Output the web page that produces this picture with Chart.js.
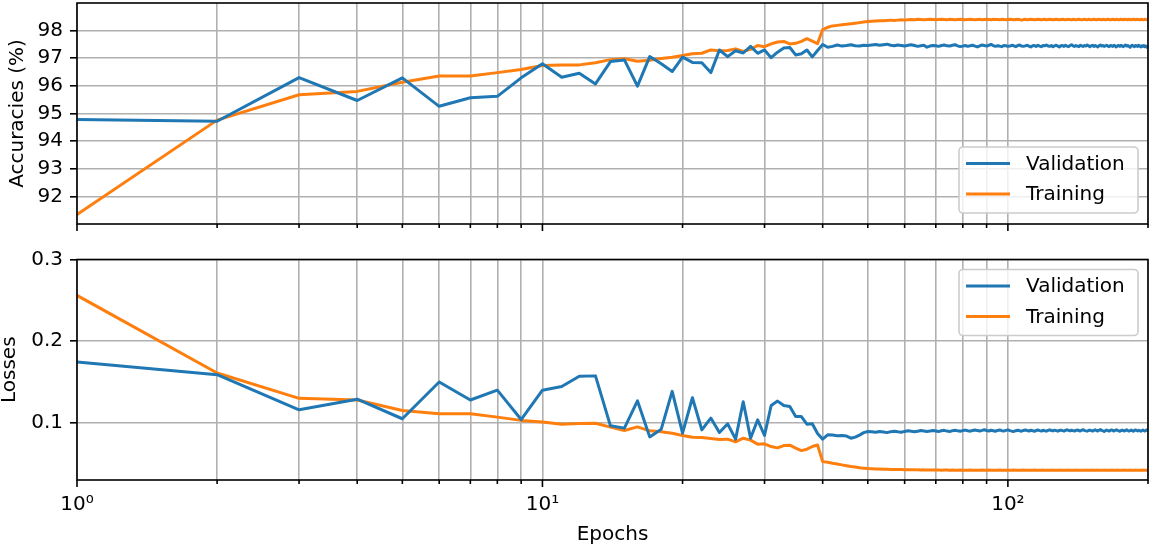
<!DOCTYPE html>
<html>
<head>
<meta charset="utf-8">
<script src="https://cdn.jsdelivr.net/npm/chart.js@4.4.1/dist/chart.umd.min.js"></script>
<style>
  html, body { margin: 0; padding: 0; background: #fff; }
  #wrap { position: relative; width: 1153px; height: 548px; }
  canvas { position: absolute; left: 0; }
  #accChart { top: 0; }
  #lossChart { top: 240px; }
</style>
</head>
<body>
<div id="wrap">
  <canvas id="accChart" width="1153" height="240"></canvas>
  <canvas id="lossChart" width="1153" height="308"></canvas>
</div>
<script>
// epochs 1..200
const epochs = Array.from({ length: 200 }, (_, i) => i + 1);

const xTicks = [1, 2, 3, 4, 5, 6, 7, 8, 9, 10, 20, 30, 40, 50, 60, 70, 80, 90, 100, 200];
const xMajor = [1, 10, 100];
const xTickLabels = ["10⁰", "10¹", "10²"];
const accTicks = [92, 93, 94, 95, 96, 97, 98];
const lossTicks = [0.1, 0.2, 0.3];

const valAcc = [
  94.78, 94.72, 96.30, 95.47, 96.29, 95.26, 95.57, 95.62, 96.29, 96.80,
  96.31, 96.46, 96.07, 96.88, 96.94, 95.99, 97.06, 96.80, 96.52, 97.04,
  96.85, 96.84, 96.48, 97.30, 97.06, 97.27, 97.19, 97.43, 97.18, 97.30,
  97.02, 97.22, 97.37, 97.39, 97.12, 97.16, 97.30, 97.05, 97.28, 97.50,
  97.40, 97.43, 97.48, 97.44, 97.46, 97.49, 97.45, 97.44, 97.47, 97.46,
  97.48, 97.50, 97.47, 97.49, 97.51, 97.47, 97.45, 97.48, 97.46, 97.44,
  97.47, 97.49, 97.46, 97.43, 97.45, 97.47, 97.40, 97.44, 97.46, 97.45,
  97.43, 97.46, 97.48, 97.45, 97.44, 97.47, 97.49, 97.45, 97.42, 97.44,
  97.46, 97.43, 97.45, 97.47, 97.44, 97.41, 97.45, 97.48, 97.46, 97.44,
  97.47, 97.50, 97.46, 97.43, 97.45, 97.44, 97.42, 97.46, 97.45, 97.43,
  97.44, 97.47, 97.45, 97.42, 97.46, 97.48, 97.44, 97.43, 97.45, 97.47,
  97.44, 97.41, 97.45, 97.46, 97.43, 97.47, 97.44, 97.42, 97.46, 97.45,
  97.48, 97.44, 97.43, 97.46, 97.42, 97.45, 97.47, 97.44, 97.41, 97.45,
  97.46, 97.43, 97.47, 97.44, 97.42, 97.46, 97.49, 97.45, 97.43, 97.46,
  97.44, 97.42, 97.47, 97.45, 97.43, 97.46, 97.44, 97.48, 97.45, 97.42,
  97.45, 97.47, 97.43, 97.46, 97.44, 97.41, 97.45, 97.48, 97.44, 97.46,
  97.43, 97.45, 97.47, 97.44, 97.42, 97.46, 97.45, 97.43, 97.47, 97.44,
  97.41, 97.45, 97.46, 97.43, 97.47, 97.44, 97.42, 97.45, 97.48, 97.44,
  97.46, 97.43, 97.40, 97.45, 97.47, 97.44, 97.42, 97.46, 97.45, 97.43,
  97.47, 97.44, 97.41, 97.45, 97.43, 97.46, 97.42, 97.44, 97.40, 97.43
];

const trainAcc = [
  91.34, 94.76, 95.68, 95.80, 96.13, 96.36, 96.36, 96.48, 96.59, 96.74,
  96.76, 96.76, 96.84, 96.95, 96.98, 96.89, 96.93, 96.99, 97.04, 97.10,
  97.16, 97.18, 97.30, 97.27, 97.28, 97.34, 97.25, 97.32, 97.46, 97.42,
  97.52, 97.59, 97.61, 97.52, 97.54, 97.61, 97.71, 97.62, 97.53, 98.04,
  98.12, 98.17, 98.19, 98.21, 98.23, 98.25, 98.27, 98.29, 98.31, 98.33,
  98.34, 98.35, 98.36, 98.36, 98.37, 98.38, 98.37, 98.38, 98.39, 98.38,
  98.39, 98.40, 98.39, 98.41, 98.40, 98.39, 98.40, 98.41, 98.40, 98.39,
  98.40, 98.41, 98.40, 98.39, 98.41, 98.40, 98.39, 98.40, 98.41, 98.40,
  98.39, 98.40, 98.41, 98.40, 98.39, 98.40, 98.41, 98.39, 98.40, 98.41,
  98.40, 98.39, 98.41, 98.40, 98.40, 98.39, 98.41, 98.40, 98.39, 98.40,
  98.41, 98.40, 98.39, 98.40, 98.41, 98.40, 98.38, 98.40, 98.41, 98.39,
  98.40, 98.41, 98.40, 98.39, 98.40, 98.41, 98.40, 98.39, 98.40, 98.41,
  98.39, 98.40, 98.41, 98.40, 98.39, 98.40, 98.41, 98.40, 98.39, 98.40,
  98.41, 98.40, 98.39, 98.41, 98.40, 98.40, 98.39, 98.41, 98.40, 98.39,
  98.40, 98.41, 98.40, 98.39, 98.40, 98.41, 98.40, 98.39, 98.41, 98.40,
  98.39, 98.40, 98.41, 98.40, 98.39, 98.41, 98.40, 98.40, 98.39, 98.41,
  98.40, 98.39, 98.40, 98.41, 98.40, 98.39, 98.40, 98.41, 98.40, 98.39,
  98.41, 98.40, 98.39, 98.40, 98.41, 98.40, 98.39, 98.41, 98.40, 98.40,
  98.39, 98.41, 98.40, 98.39, 98.40, 98.41, 98.40, 98.39, 98.41, 98.40,
  98.40, 98.39, 98.41, 98.40, 98.39, 98.40, 98.41, 98.40, 98.39, 98.40
];

const valLoss = [
  0.1745, 0.159, 0.116, 0.129, 0.105, 0.150, 0.128, 0.140, 0.104, 0.140,
  0.1445, 0.157, 0.1575, 0.0963, 0.0935, 0.127, 0.0828, 0.0922, 0.1385, 0.0873,
  0.1307, 0.0914, 0.1058, 0.0881, 0.0988, 0.0800, 0.1258, 0.0812, 0.1037, 0.0845,
  0.1212, 0.1266, 0.1212, 0.1200, 0.1077, 0.1077, 0.0984, 0.0988, 0.0870, 0.0800,
  0.0853, 0.0850, 0.0842, 0.0845, 0.0838, 0.0812, 0.0825, 0.0850, 0.0880, 0.0893,
  0.0890, 0.0885, 0.0895, 0.0888, 0.0880, 0.0892, 0.0898, 0.0890, 0.0885, 0.0895,
  0.0902, 0.0896, 0.0890, 0.0898, 0.0905, 0.0900, 0.0893, 0.0899, 0.0906, 0.0901,
  0.0895, 0.0902, 0.0908, 0.0899, 0.0893, 0.0904, 0.0910, 0.0902, 0.0897, 0.0905,
  0.0911, 0.0903, 0.0898, 0.0906, 0.0913, 0.0905, 0.0899, 0.0908, 0.0915, 0.0906,
  0.0900, 0.0909, 0.0903, 0.0897, 0.0907, 0.0912, 0.0904, 0.0899, 0.0908, 0.0914,
  0.0905, 0.0898, 0.0895, 0.0904, 0.0910, 0.0903, 0.0898, 0.0907, 0.0913, 0.0906,
  0.0900, 0.0909, 0.0904, 0.0897, 0.0906, 0.0912, 0.0905, 0.0900, 0.0909, 0.0903,
  0.0898, 0.0907, 0.0914, 0.0906, 0.0901, 0.0910, 0.0904, 0.0898, 0.0906, 0.0911,
  0.0904, 0.0899, 0.0908, 0.0915, 0.0907, 0.0901, 0.0910, 0.0905, 0.0899, 0.0907,
  0.0912, 0.0906, 0.0900, 0.0909, 0.0916, 0.0908, 0.0902, 0.0898, 0.0906, 0.0911,
  0.0905, 0.0899, 0.0908, 0.0914, 0.0906, 0.0900, 0.0909, 0.0917, 0.0907, 0.0901,
  0.0895, 0.0904, 0.0911, 0.0905, 0.0899, 0.0907, 0.0913, 0.0906, 0.0900, 0.0909,
  0.0915, 0.0907, 0.0902, 0.0896, 0.0905, 0.0912, 0.0906, 0.0900, 0.0908, 0.0914,
  0.0906, 0.0899, 0.0904, 0.0911, 0.0905, 0.0898, 0.0907, 0.0913, 0.0906, 0.0900,
  0.0909, 0.0903, 0.0897, 0.0906, 0.0912, 0.0905, 0.0899, 0.0908, 0.0915, 0.0904
];

const trainLoss = [
  0.256, 0.161, 0.130, 0.128, 0.115, 0.111, 0.111, 0.107, 0.103, 0.101,
  0.0984, 0.0992, 0.0995, 0.0947, 0.0906, 0.0951, 0.0902, 0.0890, 0.0873, 0.0845,
  0.0824, 0.0820, 0.0808, 0.0795, 0.0800, 0.0767, 0.0812, 0.0788, 0.0739, 0.0743,
  0.0710, 0.0693, 0.0722, 0.0726, 0.0690, 0.0660, 0.0677, 0.0710, 0.0728, 0.0525,
  0.0517, 0.0505, 0.0497, 0.0485, 0.0475, 0.0465, 0.0458, 0.0450, 0.0445, 0.0440,
  0.0437, 0.0435, 0.0434, 0.0432, 0.0431, 0.0430, 0.0429, 0.0428, 0.0428, 0.0427,
  0.0426, 0.0425, 0.0426, 0.0424, 0.0423, 0.0424, 0.0422, 0.0423, 0.0421, 0.0422,
  0.0421, 0.0420, 0.0422, 0.0421, 0.0420, 0.0421, 0.0419, 0.0420, 0.0421, 0.0420,
  0.0419, 0.0420, 0.0421, 0.0419, 0.0420, 0.0418, 0.0420, 0.0421, 0.0419, 0.0420,
  0.0421, 0.0419, 0.0420, 0.0418, 0.0419, 0.0421, 0.0420, 0.0419, 0.0420, 0.0418,
  0.0419, 0.0420, 0.0421, 0.0419, 0.0418, 0.0420, 0.0419, 0.0421, 0.0420, 0.0419,
  0.0418, 0.0420, 0.0419, 0.0421, 0.0420, 0.0418, 0.0419, 0.0420, 0.0421, 0.0419,
  0.0420, 0.0418, 0.0419, 0.0421, 0.0420, 0.0419, 0.0418, 0.0420, 0.0421, 0.0419,
  0.0420, 0.0419, 0.0418, 0.0420, 0.0421, 0.0419, 0.0420, 0.0418, 0.0419, 0.0421,
  0.0420, 0.0419, 0.0421, 0.0418, 0.0420, 0.0419, 0.0421, 0.0420, 0.0418, 0.0419,
  0.0421, 0.0420, 0.0419, 0.0418, 0.0420, 0.0421, 0.0419, 0.0420, 0.0418, 0.0419,
  0.0420, 0.0421, 0.0419, 0.0418, 0.0420, 0.0419, 0.0421, 0.0420, 0.0419, 0.0418,
  0.0420, 0.0421, 0.0419, 0.0420, 0.0418, 0.0419, 0.0421, 0.0420, 0.0419, 0.0420,
  0.0418, 0.0420, 0.0421, 0.0419, 0.0420, 0.0418, 0.0419, 0.0421, 0.0420, 0.0419,
  0.0420, 0.0418, 0.0421, 0.0419, 0.0420, 0.0421, 0.0419, 0.0418, 0.0420, 0.0421
];

const BLUE = "#1f77b4";
const ORANGE = "#ff7f0e";
const GRID = "#b0b0b0";
const FONT = "'DejaVu Sans', sans-serif";

Chart.defaults.font.family = FONT;
Chart.defaults.font.size = 20;
Chart.defaults.color = "#000";

const pts = (vals) => epochs.map((e, i) => ({ x: e, y: vals[i] }));

function series(label, color, vals) {
  return {
    label,
    data: pts(vals),
    borderColor: color,
    backgroundColor: color,
    borderWidth: 3,
    pointRadius: 0,
    tension: 0,
    borderJoinStyle: "round",
    borderCapStyle: "round",
  };
}

// box, x tick marks (long on decades, short elsewhere)
const frame = {
  id: "frame",
  afterDatasetsDraw(chart) {
    const { ctx, chartArea: a } = chart;
    const xs = chart.scales.x;
    ctx.save();
    ctx.strokeStyle = "#000";
    ctx.lineWidth = 1.6;
    xs.ticks.forEach((t) => {
      const px = xs.getPixelForValue(t.value);
      const len = xMajor.includes(t.value) ? 7 : 4;
      ctx.beginPath();
      ctx.moveTo(px, a.bottom);
      ctx.lineTo(px, a.bottom + len);
      ctx.stroke();
    });
    ctx.strokeRect(a.left, a.top, a.right - a.left, a.bottom - a.top);
    ctx.restore();
  },
};

// matplotlib-like legend box inside the axes
const boxLegend = {
  id: "boxLegend",
  afterDraw(chart, args, opts) {
    const { ctx, chartArea: a } = chart;
    const w = 179, h = 66;
    const left = a.right - 10 - w;
    const top = opts.where === "lower" ? a.bottom - 11 - h : a.top + 10;
    ctx.save();
    ctx.fillStyle = "rgba(255,255,255,0.8)";
    ctx.strokeStyle = "#cccccc";
    ctx.lineWidth = 1.6;
    ctx.beginPath();
    ctx.roundRect(left, top, w, h, 4);
    ctx.fill();
    ctx.stroke();
    ctx.font = "20px " + FONT;
    ctx.textBaseline = "middle";
    chart.data.datasets.forEach((ds, i) => {
      const y = top + 16.5 + i * 30.5;
      ctx.strokeStyle = ds.borderColor;
      ctx.lineWidth = 3;
      ctx.beginPath();
      ctx.moveTo(left + 7, y);
      ctx.lineTo(left + 51, y);
      ctx.stroke();
      ctx.fillStyle = "#000";
      ctx.fillText(ds.label, left + 67, y + 1);
    });
    ctx.restore();
  },
};

function xScale(showLabels, height) {
  return {
    type: "logarithmic",
    min: 1,
    max: 200,
    afterBuildTicks: (s) => { s.ticks = xTicks.map((v) => ({ value: v })); },
    afterFit: (s) => {
      s.height = height;
      s.paddingLeft = 0;
      s.paddingRight = 0;
    },
    grid: { color: GRID, lineWidth: 1.6, drawTicks: false },
    border: { display: false },
    ticks: {
      display: showLabels,
      autoSkip: false,
      maxRotation: 0,
      padding: 13,
      callback: (v) => {
        const i = xMajor.indexOf(v);
        return i < 0 ? "" : xTickLabels[i];
      },
    },
    title: {
      display: showLabels,
      text: "Epochs",
      font: { size: 20, lineHeight: 1 },
      padding: { top: 0, bottom: 3 },
    },
  };
}

function yScale(min, max, tickVals, fmt, title, titlePad) {
  return {
    min,
    max,
    afterBuildTicks: (s) => { s.ticks = tickVals.map((v) => ({ value: v })); },
    afterFit: (s) => {
      s.width = 77;
      s.paddingTop = 0;
      s.paddingBottom = 0;
    },
    grid: { color: GRID, lineWidth: 1.6, tickColor: "#000", tickLength: 7, tickWidth: 1.6 },
    border: { display: false },
    ticks: { padding: 7, callback: fmt },
    title: {
      display: true,
      text: title,
      font: { size: 20, lineHeight: 1 },
      padding: { top: titlePad, bottom: 0 },
    },
  };
}

new Chart(document.getElementById("accChart"), {
  type: "line",
  data: {
    datasets: [
      series("Validation", BLUE, valAcc),
      series("Training", ORANGE, trainAcc),
    ],
  },
  options: {
    responsive: false,
    animation: false,
    devicePixelRatio: 1,
    layout: { padding: { top: 3, right: 5, bottom: 0, left: 0 } },
    plugins: {
      legend: { display: false },
      tooltip: { enabled: false },
      boxLegend: { where: "lower" },
    },
    scales: {
      x: xScale(false, 16),
      y: yScale(91, 99, accTicks, (v) => String(v), "Accuracies (%)", 8),
    },
  },
  plugins: [frame, boxLegend],
});

new Chart(document.getElementById("lossChart"), {
  type: "line",
  data: {
    datasets: [
      series("Validation", BLUE, valLoss),
      series("Training", ORANGE, trainLoss),
    ],
  },
  options: {
    responsive: false,
    animation: false,
    devicePixelRatio: 1,
    layout: { padding: { top: 19.5, right: 5, bottom: 0, left: 0 } },
    plugins: {
      legend: { display: false },
      tooltip: { enabled: false },
      boxLegend: { where: "upper" },
    },
    scales: {
      x: xScale(true, 68),
      y: yScale(0.03, 0.3, lossTicks, (v) => v.toFixed(1), "Losses", 0),
    },
  },
  plugins: [frame, boxLegend],
});
</script>
</body>
</html>
